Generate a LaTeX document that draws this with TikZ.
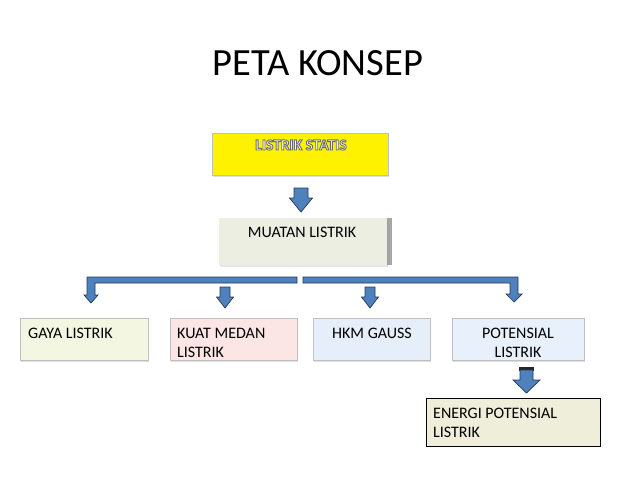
\documentclass[tikz,border=0pt]{standalone}
\usepackage{fontspec}
\setmainfont{Carlito}
\usetikzlibrary{shadows}
\definecolor{arrowfill}{HTML}{4F81BD}
\definecolor{arrowline}{HTML}{22385A}
\definecolor{boxline}{HTML}{BFBFBF}
\definecolor{gayafill}{HTML}{F3F7E2}
\definecolor{kuatfill}{HTML}{FCE5E5}
\definecolor{hkmfill}{HTML}{E6EEF9}
\definecolor{potfill}{HTML}{E8F0FB}
\definecolor{enfill}{HTML}{EEEEDA}
\definecolor{mufill}{HTML}{EDEEE2}
\newcommand\outltext[1]{{\color{white}\special{pdf:literal direct 0.42 0.42 0.42 RG 2 Tr 0.9 w}#1\special{pdf:literal direct 0 Tr}}}
\tikzset{
  boxshape/.style={draw=boxline, line width=0.6pt, minimum width=#1, inner sep=0pt,
    drop shadow={shadow xshift=1pt, shadow yshift=-2pt, opacity=0.25}},
  lbl/.style={inner sep=0pt, font=\fontsize{16}{19}\selectfont},
  blockarrow/.style={fill=arrowfill, draw=arrowline, line width=0.7pt, line join=miter},
}
\begin{document}
\begin{tikzpicture}[x=1pt,y=-1pt]
\useasboundingbox (0,0) rectangle (638,479);
% title
\node[inner sep=0pt, anchor=base, font=\fontsize{38.5}{40}\selectfont] (title) at (318,75) {PETA KONSEP};
% LISTRIK STATIS
\node[boxshape=176pt, fill=yellow, minimum height=42pt, anchor=north west] (ls) at (212,133) {};
\node[inner sep=0pt, anchor=base, font=\fontsize{15.5}{18}\selectfont\bfseries] (lst) at (301,150) {\outltext{LISTRIK STATIS}};
% MUATAN LISTRIK
\fill[gray!70] (387,218) rectangle (392,265);
\node[fill=mufill, draw=none, minimum width=168pt, minimum height=47pt, inner sep=0pt, anchor=north west,
  drop shadow={shadow xshift=1pt, shadow yshift=-1.5pt, opacity=0.2}] (mu) at (219,218) {};
\node[lbl, anchor=base] (mut) at (302,237) {MUATAN LISTRIK};
% second row boxes
\node[boxshape=128pt, fill=gayafill, minimum height=42pt, anchor=north west] (ga) at (20,318) {};
\node[lbl, anchor=base west] (gat) at (28,338) {GAYA LISTRIK};
\node[boxshape=127pt, fill=kuatfill, minimum height=42pt, anchor=north west] (ku) at (170,318) {};
\node[lbl, anchor=base west] (kut) at (177,338) {\parbox[t]{115pt}{\raggedright KUAT MEDAN\\LISTRIK}};
\node[boxshape=117pt, fill=hkmfill, minimum height=42pt, anchor=north west] (hk) at (313,318) {};
\node[lbl, anchor=base] (hkt) at (372,338) {HKM GAUSS};
\node[boxshape=132pt, fill=potfill, minimum height=42pt, anchor=north west] (po) at (452,318) {};
\node[lbl, anchor=base] (pot) at (518,338) {\parbox[t]{120pt}{\centering POTENSIAL\\LISTRIK}};
% energi
\node[draw=black, line width=0.7pt, fill=enfill, minimum width=174pt, minimum height=48pt, inner sep=0pt, anchor=north west] (en) at (426,398) {};
\node[lbl, anchor=base west] (ent) at (433,418) {\parbox[t]{160pt}{\raggedright ENERGI POTENSIAL\\LISTRIK}};
% arrows
% LS -> MU
\draw[blockarrow] (294,188) -- (308,188) -- (308,198) -- (312.5,198) -- (301,212) -- (289.5,198) -- (294,198) -- cycle;
% bracket left part
\draw[blockarrow] (297,277) -- (87,277) -- (87,295) -- (84,295) -- (91,303) -- (98,295) -- (95,295) -- (95,283) -- (297,283) -- cycle;
% bracket right part
\draw[blockarrow] (303,277) -- (518,277) -- (518,294) -- (522,294) -- (514,302) -- (506,294) -- (510,294) -- (510,283) -- (303,283) -- cycle;
% small arrows to KUAT and HKM
\draw[blockarrow] (220,287) -- (230,287) -- (230,297) -- (233.5,297) -- (225,308) -- (216.5,297) -- (220,297) -- cycle;
\draw[blockarrow] (365,287) -- (375,287) -- (375,297) -- (378.5,297) -- (370,308) -- (361.5,297) -- (365,297) -- cycle;
% POTENSIAL -> ENERGI
\fill[black!85] (519,367) rectangle (534,370.5);
\draw[blockarrow] (520,370) -- (533,370) -- (533,380) -- (540,380) -- (526.5,393) -- (513,380) -- (520,380) -- cycle;
\end{tikzpicture}
\end{document}
